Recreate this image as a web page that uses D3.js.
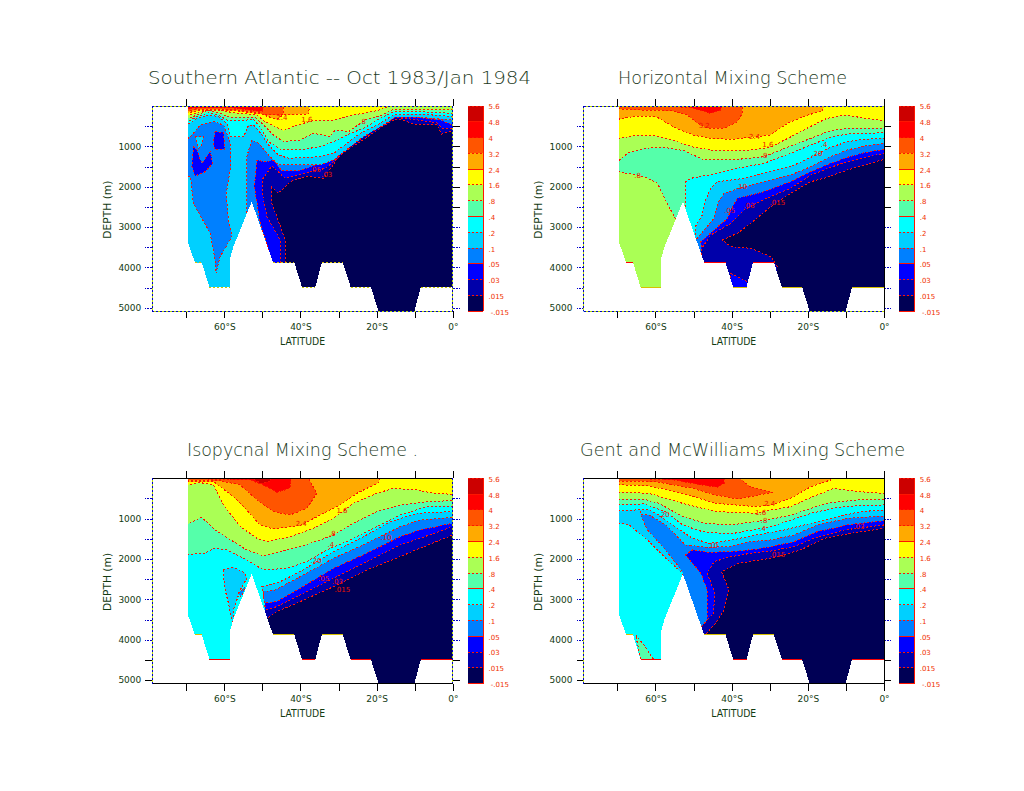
<!DOCTYPE html>
<html><head><meta charset="utf-8">
<script src="https://cdn.jsdelivr.net/npm/d3@7"></script>
<style>html,body{margin:0;background:#fff}svg{display:block}text{font-family:"DejaVu Sans",sans-serif}</style>
</head><body><svg id="c" width="1024" height="791"></svg>
<script>
// colour bar
const levels=["5.6","4.8","4","3.2","2.4","1.6",".8",".4",".2",".1",".05",".03",".015","-.015"];
const colors=["#cc0000","#ff0000","#ff5500","#ffaa00","#ffff00","#aaff55","#55ffaa","#00ffff","#00d0ff","#0080ff","#0000ff","#0000aa","#000055"];
// bathymetry (lat, depth m)
const topoLat=[-69.5,-69.5,-67.7,-65.9,-63.9,-58.6,-58.6,-57.6,-52.8,-47.2,-41.6,-39.6,-36.1,-34.4,-28.9,-26.8,-21.5,-19.5,-10.1,-8.4,0];
const topoDepth=[0,3400,3880,3880,4490,4490,3815,3485,2370,3880,3880,4490,4490,3880,3880,4490,4490,5090,5090,4490,4490];
const floors=[[-67.7,-65.9,3880],[-63.9,-58.6,4490],[-47.2,-41.6,3880],[-39.6,-36.1,4490],[-34.4,-28.9,3880],[-26.8,-21.5,4490],[-8.4,0,4490]];
const latTicks=[-70,-60,-50,-40,-30,-20,-10,0];
const depthTicks=[500,1000,1500,2000,2500,3000,3500,4000,4500,5000];
// layer = [colour index, points [lat,depth], closed?]
const satlLayers=[
[11,[[-44,3981],[-44,3321],[-46.2,2742],[-47.5,2412],[-47.5,2015],[-45.8,2164],[-42.7,1875],[-38.3,1735],[-33.9,1792],[-29.6,1214],[-24.3,884],[-19.1,553],[-15.6,347],[-13.8,330],[-10.3,446],[-4.2,471],[-2.9,694],[0,611]]],
[10,[[-45.3,3981],[-45.3,3321],[-48.8,2742],[-50,2164],[-50.1,1834],[-47.5,1487],[-44,1792],[-40.5,1710],[-33.5,1545],[-31.3,1379],[-26.1,925],[-19.9,512],[-15.6,281],[-10.3,330],[-4.2,413],[-2.9,553],[0,553]]],
[9,[[-47.2,3981],[-50.7,2825],[-52.1,1999],[-51.4,1338],[-49.3,1388],[-47.1,1338],[-44.9,1611],[-40.5,1602],[-36.6,1487],[-32.2,1256],[-26.9,843],[-20.8,430],[-16.4,248],[-13.8,223],[-9.4,281],[-3.3,347],[0,471]]],
[8,[[-54.1,2660],[-54.1,1256],[-52.8,843],[-51,925],[-48.4,1214],[-45.8,1462],[-41.4,1462],[-34.8,1462],[-31.3,1338],[-26.9,1008],[-23.4,760],[-18.2,471],[-15.1,281],[-8.6,281],[0,347]]],
[9,[[-72,1024],[-68.5,719],[-66.3,471],[-62.8,388],[-60.2,471],[-58.4,925],[-58.3,1503],[-59.5,2164],[-58.9,2825],[-58,3238],[-61.1,3734],[-62.2,4147],[-62.4,3816],[-63.7,3155],[-68.1,2412],[-68.9,1751],[-72,1751]],1],
[8,[[-67.6,760],[-65.4,760],[-65.9,966],[-66.8,1049]],1],
[10,[[-68.1,1008],[-67.2,1090],[-65.9,1421],[-63.7,1132],[-63,1421],[-65,1627],[-67.6,1735],[-68.5,1503]],1],
[10,[[-62.4,636],[-60.2,653],[-59.9,1074],[-62.6,1074],[-62.8,843]],1],
[7,[[-72,611],[-67.2,306],[-64.1,223],[-61.5,264],[-59.3,430],[-58.4,760],[-54.9,760],[-53.6,471],[-52.3,471],[-50.1,719],[-48.4,966],[-45.8,1214],[-43.1,1297],[-34.8,1256],[-31.3,1173],[-27.8,925],[-24.3,677],[-19.1,430],[-15.6,223],[-8.6,198],[0,264]]],
[6,[[-72,512],[-67.2,264],[-64.1,165],[-61.5,223],[-59.3,347],[-54.1,347],[-52.3,330],[-50.1,595],[-48.4,884],[-44.9,1090],[-40.5,1090],[-34.8,1008],[-31.3,884],[-26.9,677],[-23.4,553],[-19.1,306],[-15.6,140],[-8.6,140],[0,182]]],
[5,[[-72,413],[-67.2,223],[-64.1,116],[-61.1,182],[-58.4,281],[-51.9,281],[-49.7,471],[-47.1,719],[-44.4,884],[-40.1,843],[-36.6,677],[-32.2,760],[-30.9,595],[-27.4,636],[-23,347],[-18.6,223],[-16,99],[-8.6,99],[0,99]]],
[4,[[-72,306],[-66.3,140],[-62.8,83],[-57.6,165],[-51.4,223],[-49.3,388],[-44.4,611],[-40.9,471],[-36.6,363],[-31.3,347],[-26.1,223],[-19.9,116],[-16.4,0]]],
[3,[[-72,223],[-66.3,99],[-57.6,116],[-50.6,198],[-46.2,330],[-44.6,223],[-37.9,198],[-37.6,0]]],
[2,[[-72,165],[-66.3,74],[-57.6,91],[-50.6,165],[-49.7,223],[-44.6,223],[-44.4,0]]],
[1,[[-72,99],[-66.3,41],[-57.6,50],[-49.9,140],[-49.7,0]]]
];
const horizLayers=[
[11,[[-28,3981],[-29.7,3734],[-35,3527],[-40.2,3486],[-42.4,3321],[-38.5,3155],[-35,2908],[-29.7,2495],[-24.5,2164],[-19.2,1875],[-15.7,1792],[-9.6,1586],[-5.2,1462],[0,1322]]],
[10,[[-40.2,4147],[-35.9,4353],[-35.4,4640],[-40.2,4640]],1],
[10,[[-48.1,3981],[-48.1,3568],[-45.5,3197],[-40.2,2908],[-36.7,2577],[-31.5,2313],[-24.5,2040],[-19.2,1710],[-14,1520],[-9.6,1379],[-5.2,1280],[0,1173]]],
[9,[[-47.7,3981],[-48.1,3362],[-41.1,2784],[-40.2,2577],[-38.5,2288],[-31.5,2123],[-24.5,1875],[-19.2,1627],[-14,1421],[-9.6,1272],[-5.2,1156],[0,1074]]],
[8,[[-49.4,3981],[-49.4,3321],[-44.6,2784],[-43.7,2412],[-42,2164],[-36.7,1999],[-31.5,1875],[-24.5,1710],[-19.2,1503],[-14,1256],[-9.6,1090],[-5.2,991],[0,925]]],
[7,[[-50.3,3981],[-49.4,2965],[-47.7,2701],[-47.2,2412],[-45.5,2040],[-43.7,1875],[-36.7,1792],[-31.5,1669],[-24.5,1503],[-19.2,1272],[-14,1024],[-9.6,884],[-5.2,826],[0,801]]],
[6,[[-52.1,2990],[-52.1,1875],[-50.7,1792],[-44.6,1685],[-38.5,1545],[-31.5,1421],[-24.5,1173],[-19.2,966],[-14,776],[-9.6,694],[0,661]]],
[5,[[-72,1586],[-67.4,1669],[-63,1751],[-59.5,1916],[-56.9,2412],[-54.7,2808],[-54.7,4640],[-72,4640]],1],
[5,[[-72,1545],[-67.4,1173],[-63,1049],[-57.7,1024],[-52.5,1107],[-47.2,1338],[-39.9,1338],[-31.5,1256],[-24.9,1008],[-19.9,826],[-14,611],[-9.6,553],[0,553]]],
[4,[[-72,843],[-64.8,727],[-59.8,743],[-54.9,867],[-49.9,1024],[-44.9,1099],[-39.9,1107],[-34.9,1090],[-29.9,1024],[-24.9,785],[-19.9,537],[-15,306],[-9.9,223],[-5,306],[0,363]]],
[3,[[-72,363],[-64.8,248],[-59.8,264],[-54.9,537],[-49.9,727],[-44.9,809],[-39.9,826],[-34.9,776],[-29.9,719],[-24.9,405],[-19.9,223],[-16.2,116],[-15.7,0]]],
[2,[[-72,60],[-63.9,99],[-56,116],[-51.6,223],[-49,430],[-46.4,553],[-42,553],[-38.5,388],[-37.2,182],[-37.2,0]]],
[1,[[-63.9,0],[-50.7,33],[-47.2,140],[-45.5,182],[-42.9,99],[-42.4,0]]]
];
const isoLayers=[
[11,[[-49.7,3923],[-48.8,3469],[-46.2,3304],[-40.1,3056],[-31.3,2685],[-22.6,2272],[-13.8,1941],[-8.6,1735],[0,1404]]],
[10,[[-49.7,3923],[-49.3,3263],[-46.2,3180],[-40.1,2891],[-31.3,2478],[-22.6,2065],[-13.8,1652],[-8.6,1487],[0,1198]]],
[9,[[-49.9,3923],[-49.7,3098],[-46.2,3056],[-40.1,2726],[-31.3,2230],[-22.6,1859],[-13.8,1446],[-8.6,1280],[0,1115]]],
[8,[[-50,3923],[-49.7,2808],[-46.6,2767],[-40.1,2437],[-31.3,1982],[-22.6,1611],[-13.8,1198],[-8.6,1033],[0,966]]],
[7,[[-49.3,3180],[-50.1,2685],[-45.3,2561],[-40.1,2313],[-31.3,1817],[-22.6,1404],[-16.4,1074],[-9.4,867],[0,826]]],
[8,[[-60.2,2272],[-57.6,2205],[-54.5,2354],[-54.1,2478],[-55.8,2767],[-57.6,3263],[-57.7,3676],[-58.9,3098],[-60,2685]],1],
[9,[[-56.3,2850],[-54.5,2685],[-55.1,2850],[-55.8,2932]],1],
[6,[[-72,1900],[-65.4,1859],[-62.4,1735],[-59.3,1776],[-54.9,1982],[-49.7,2272],[-43.6,2230],[-38.3,2065],[-33.1,1776],[-26.9,1528],[-19.9,1198],[-13.8,909],[-6.8,702],[0,686]]],
[5,[[-72,1239],[-65.9,966],[-62.4,1280],[-57.6,1569],[-54.1,1776],[-49.7,1925],[-45.3,1817],[-40.1,1693],[-34.8,1528],[-31.3,1404],[-26.1,1115],[-19.9,826],[-13.8,661],[-6.8,578],[0,553]]],
[4,[[-72,200],[-66.3,107],[-62.8,165],[-60.2,661],[-55.8,1198],[-51.4,1487],[-48.8,1569],[-42.7,1446],[-36.6,1239],[-31.3,991],[-26.1,620],[-19.9,372],[-15.6,248],[-9.4,289],[-5.1,372],[0,396]]],
[3,[[-72,90],[-62.8,83],[-57.6,454],[-54.1,785],[-50.6,1156],[-47.1,1255],[-40.1,1173],[-34.8,909],[-29.6,661],[-25.2,372],[-19.5,107],[-19.1,0]]],
[2,[[-72,40],[-61.1,58],[-55.8,165],[-51.4,537],[-47.1,826],[-42.7,909],[-38.3,743],[-35.7,372],[-37.9,0]]],
[1,[[-64.6,17],[-53.2,41],[-48.8,206],[-46.2,347],[-42.7,248],[-42.5,0]]],
[0,[[-52.3,0],[-50.6,124],[-47.9,83],[-47.9,0]]]
];
const gmLayers=[
[11,[[-47.4,3924],[-44.2,3593],[-42,3263],[-40.7,2767],[-42.7,2313],[-38.1,2106],[-33.7,2040],[-29.7,1982],[-21.9,1776],[-15.7,1487],[-8.7,1363],[0,1239]]],
[10,[[-48.6,3924],[-47.7,3634],[-44.8,3345],[-44.4,2850],[-46.4,2354],[-44.6,2065],[-40.2,1941],[-35,1859],[-29.7,1801],[-23.6,1693],[-18.4,1487],[-10.5,1280],[0,1156]]],
[9,[[-48.6,3758],[-46.4,3510],[-46.4,2767],[-48.1,2354],[-52.1,1900],[-50.3,1776],[-45.9,1834],[-39.8,1817],[-33.7,1759],[-29.7,1693],[-23.6,1569],[-17.5,1322],[-9.6,1156],[0,1049]]],
[8,[[-72,0],[-63.9,0],[-63.9,909],[-62.1,1280],[-57.7,1735],[-52.9,2313],[-52.9,3924],[-72,3924]],1],
[7,[[-72,1074],[-66.9,1156],[-62.6,1487],[-57.3,1982],[-52.9,2354],[-52.9,4600],[-72,4600]],1],
[6,[[-65.2,3880],[-62.5,4200],[-60.5,4490],[-63.9,4490]],1],
[8,[[-63.9,909],[-61.7,909],[-57.3,1156],[-52.1,1652],[-46.4,1710],[-40.2,1693],[-35,1569],[-29.7,1528],[-23.6,1404],[-17.5,1156],[-9.6,991],[0,933]]],
[7,[[-72,818],[-65.2,785],[-61.7,785],[-59.1,909],[-55.6,1156],[-50.3,1487],[-45.9,1611],[-39.8,1528],[-35,1429],[-26.2,1280],[-19.2,1115],[-12.2,950],[-6.1,826],[0,785]]],
[6,[[-72,661],[-63,636],[-57.3,826],[-52.9,1156],[-47.7,1322],[-42.4,1363],[-39.4,1363],[-34.6,1280],[-29.7,1198],[-24.5,1033],[-19.2,867],[-12.2,719],[-5.2,669],[0,661]]],
[5,[[-72,520],[-63,520],[-59.1,620],[-52.9,950],[-46.8,1115],[-40.2,1156],[-33.7,1074],[-29.7,1016],[-24.5,909],[-19.2,743],[-14,603],[-7,537],[0,520]]],
[4,[[-72,330],[-61.7,372],[-52.9,620],[-44.2,826],[-33.7,867],[-29.7,785],[-24.5,702],[-19.7,496],[-13.1,248],[-7,330],[0,372]]],
[3,[[-72,150],[-61.7,190],[-52.9,372],[-44.2,620],[-33.7,702],[-29.7,661],[-24.5,496],[-19.2,206],[-14,41],[-14.2,0]]],
[2,[[-72,66],[-59.9,83],[-50.3,248],[-44.2,413],[-38.5,512],[-35,454],[-29.3,347],[-35,223],[-37.8,0]]],
[1,[[-64.7,8],[-55.1,41],[-49,149],[-43.7,223],[-42,124],[-42,0]]]
];
// contour labels [text, lat, depth]
const satlLabels=[["2.4",-44.9,280],["1.6",-38.3,347],[".8",-23.7,388],[".05",-36.1,1586],[".03",-33.1,1710]];
const horizLabels=[["3.2",-47.2,480],["2.4",-34,760],["1.6",-30.5,950],[".8",-31.5,1230],[".4",-15.7,950],[".20",-17.6,1190],[".10",-37.4,2000],[".05",-40.5,2600],[".03",-35.4,2470],[".015",-28,2400],[".8",-64.7,1730]];
const isoLabels=[["2.4",-39.8,1115],["1.6",-29.1,801],[".8",-31.6,1363],[".4",-32,1652],[".20",-35.9,2040],[".05",-33.9,2495],[".03",-30.3,2561],[".015",-29,2750],[".10",-17.5,1462]];
const gmLabels=[["2.4",-30,620],["1.6",-32.4,840],[".8",-31.5,1049],[".4",-31.9,1239],[".20",-57.7,909],[".10",-45,1677],[".015",-28,1900],[".03",-6.6,1198]];
const titles=["Southern Atlantic -- Oct 1983/Jan 1984","Horizontal Mixing Scheme","Isopycnal Mixing Scheme .","Gent and McWilliams Mixing Scheme"];
const titleBox=[[148,383,84],[618,229,84],[187,231,456],[580,325,456]];
const panels=[
 {x:152.3,y:106,layers:satlLayers,labels:satlLabels,frame:"dddd",rk:2500,lk:9999,floorColor:"#c9c900"},
 {x:583.5,y:106,layers:horizLayers,labels:horizLabels,frame:"dkdd",rk:2500,lk:9999,floorColor:"#ff0000"},
 {x:152.3,y:478.3,layers:isoLayers,labels:isoLabels,frame:"kdkd",rk:0,lk:4400,floorColor:"#ff0000"},
 {x:583.5,y:478.3,layers:gmLayers,labels:gmLabels,frame:"kkkd",rk:0,lk:4400,floorColor:"#ff0000"}
];
const W=300.5,H=205.3;
const svg=d3.select("#c");
const x=d3.scaleLinear().domain([-78.9,0]).range([0,W]);
const y=d3.scaleLinear().domain([0,5088]).range([0,H]);
const lineGen=d3.line().x(d=>x(d[0])).y(d=>y(d[1]));
const cb=d3.scaleBand().domain(d3.range(colors.length)).range([0,H]);
const RED="#ff1500";

function dottedLine(g,x1,y1,x2,y2){
  g.append("line").attr("x1",x1).attr("y1",y1).attr("x2",x2).attr("y2",y2).attr("stroke","#b8e000").attr("shape-rendering","crispEdges");
  g.append("line").attr("x1",x1).attr("y1",y1).attr("x2",x2).attr("y2",y2).attr("stroke","#0000c8").attr("stroke-dasharray","2 2").attr("shape-rendering","crispEdges");
}
function styleTicks(sel,solidTest){
  sel.select(".domain").remove();
  sel.selectAll(".tick line").each(function(d){
    const k=solidTest(d),t=d3.select(this);
    t.attr("stroke",k?"#000":"#0000c8").attr("stroke-dasharray",k?null:"2 1").attr("shape-rendering","crispEdges");
  });
  sel.selectAll(".tick text").attr("font-size",9).attr("fill","#123a12").attr("font-family","'DejaVu Sans',sans-serif");
}
panels.forEach((p,i)=>{
  const g=svg.append("g").attr("transform",`translate(${p.x},${p.y})`);
  const id="clip"+i;
  g.append("clipPath").attr("id",id).append("rect").attr("width",W).attr("height",H);
  const plot=g.append("g").attr("clip-path",`url(#${id})`);
  plot.append("rect").attr("width",W).attr("height",H).attr("fill",colors[12]);
  p.layers.forEach(l=>{
    const pts=l[1],closed=l[2];
    let d=lineGen(pts);
    if(closed) d+="Z";
    else{
      const s=pts[0],e=pts[pts.length-1];
      const close=[[e[0],0]];
      if(s[1]>=2000) close.push([-80,0],[-80,5200],[s[0],5200]);
      else close.push([s[0],0]);
      d+=close.map(c=>"L"+x(c[0])+","+y(c[1])).join("")+"Z";
    }
    plot.append("path").attr("d",d).attr("fill",colors[l[0]]).attr("shape-rendering","crispEdges");
    plot.append("path").attr("d",closed?lineGen(pts)+"Z":lineGen(pts)).attr("fill","none").attr("stroke",RED).attr("stroke-dasharray","2 2").attr("shape-rendering","crispEdges");
  });
  // bathymetry mask
  const topo=topoLat.map((la,j)=>[la,topoDepth[j]]);
  const maskD=lineGen(topo)+"L"+x(0)+","+(H+2)+"L-2,"+(H+2)+"L-2,0Z";
  plot.append("path").attr("d",maskD).attr("fill","#fff").attr("shape-rendering","crispEdges");
  floors.forEach(f=>{
    plot.append("line").attr("x1",x(f[0])).attr("x2",x(f[1])).attr("y1",y(f[2])).attr("y2",y(f[2]))
      .attr("stroke",(f[2]>4000)===(i!==1)?p.floorColor:"#d8c000").attr("stroke-width",1).attr("stroke-dasharray",i===0?"2 2":null).attr("shape-rendering","crispEdges");
  });
  // contour labels
  p.labels.forEach(t=>{
    g.append("text").text(t[0]).attr("x",x(t[1])).attr("y",y(t[2])).attr("dy","0.35em").attr("text-anchor","middle").attr("font-size",7).attr("fill","#ee1100");
  });
  // axes
  const fmt=d=>d===0?"0°":(d%20===0?(-d)+"°S":"");
  g.append("g").attr("transform",`translate(0,${H})`).call(d3.axisBottom(x).tickValues(latTicks).tickSize(7).tickPadding(5).tickFormat(fmt)).call(s=>styleTicks(s,()=>true));
  g.append("g").call(d3.axisTop(x).tickValues(latTicks).tickSize(7).tickFormat("")).call(s=>styleTicks(s,()=>true));
  g.append("g").call(d3.axisLeft(y).tickValues(depthTicks).tickSize(7).tickPadding(4).tickFormat(d=>d%1000===0?d:"")).call(s=>styleTicks(s,d=>d>p.lk));
  g.append("g").attr("transform",`translate(${W},0)`).call(d3.axisRight(y).tickValues(depthTicks).tickSize(7).tickFormat("")).call(s=>styleTicks(s,d=>p.rk?d<=p.rk:d>4400));
  const sides=[[0,0,W,0],[W,0,W,H],[0,H,W,H],[0,0,0,H]];
  sides.forEach((s,j)=>{
    if(p.frame[j]==="k") g.append("line").attr("x1",s[0]).attr("y1",s[1]).attr("x2",s[2]).attr("y2",s[3]).attr("stroke","#000").attr("shape-rendering","crispEdges");
    else dottedLine(g,s[0],s[1],s[2],s[3]);
  });
  // axis titles
  g.append("text").text("LATITUDE").attr("x",W/2).attr("y",H+33.5).attr("text-anchor","middle").attr("font-size",10).attr("textLength",45).attr("lengthAdjust","spacingAndGlyphs").attr("fill","#123a12");
  g.append("text").text("DEPTH (m)").attr("transform",`translate(-41.5,${H/2+1}) rotate(-90)`).attr("text-anchor","middle").attr("font-size",10).attr("textLength",58).attr("lengthAdjust","spacingAndGlyphs").attr("fill","#123a12");
  // title
  const tb=titleBox[i];
  svg.append("text").text(titles[i]).attr("x",tb[0]).attr("y",tb[2]).attr("font-size",17).attr("font-weight",200).attr("textLength",tb[1]).attr("lengthAdjust","spacingAndGlyphs").attr("fill","#1c3a1c");
  // colour bar
  const bx=W+15,bw=15.5;
  const bar=g.append("g").attr("transform",`translate(${bx},0)`);
  bar.selectAll("rect").data(colors).join("rect").attr("y",(c,j)=>cb(j)).attr("width",bw).attr("height",cb.bandwidth()).attr("fill",c=>c).attr("shape-rendering","crispEdges");
  levels.forEach((t,j)=>{
    const yy=j*cb.step();
    bar.append("line").attr("x1",0).attr("x2",bw).attr("y1",yy).attr("y2",yy).attr("stroke",RED).attr("stroke-dasharray",j%3===1?null:"2 2").attr("shape-rendering","crispEdges");
    bar.append("text").text(t).attr("x",j===13?23:20.7).attr("y",yy+1).attr("dy","0.35em").attr("text-anchor","start").attr("font-size",7).attr("fill","#f03000");
  });
  bar.append("line").attr("x1",bw).attr("x2",bw).attr("y1",0).attr("y2",H).attr("stroke",RED).attr("stroke-width",1.5).attr("shape-rendering","crispEdges");
});
</script></body></html>
